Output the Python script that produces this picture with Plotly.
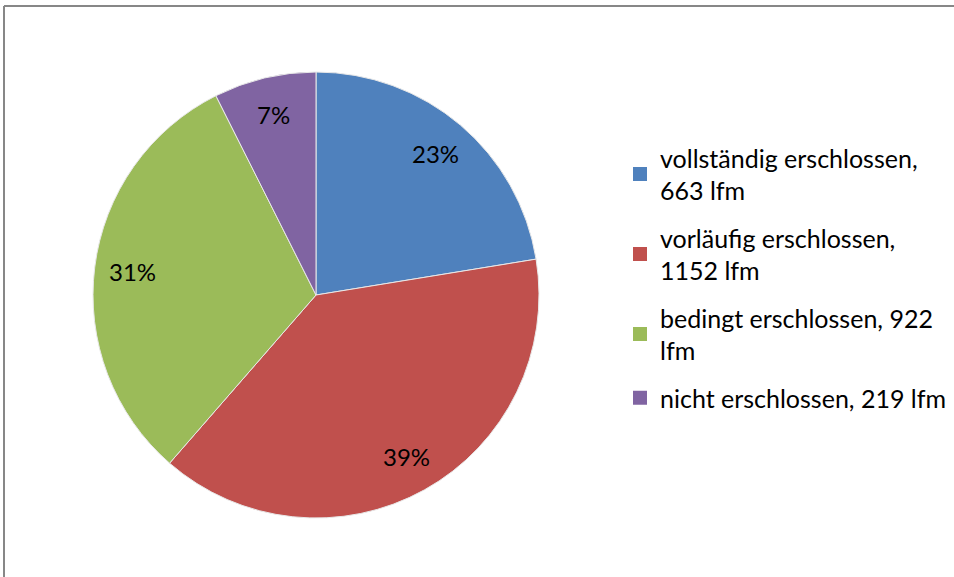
import math
import plotly.graph_objects as go

# Erschließungsstand der Bestände (laufende Meter)
categories = [
    "vollständig erschlossen,<br>663 lfm",
    "vorläufig erschlossen,<br>1152 lfm",
    "bedingt erschlossen, 922<br>lfm",
    "nicht erschlossen, 219 lfm",
]
values = [663, 1152, 922, 219]
percent_labels = ["23%", "39%", "31%", "7%"]
colors = ["#4F81BD", "#C0504D", "#9BBB59", "#8064A2"]

W, H = 954, 577
cx, cy, r = 316, 295, 223          # pie centre and radius in pixels
label_r = 0.83 * r                 # radius where the percent labels sit
font_family = "Lato"

fig = go.Figure()

fig.add_trace(
    go.Pie(
        labels=categories,
        values=values,
        textinfo="none",
        sort=False,
        direction="clockwise",
        rotation=0,
        showlegend=False,
        marker=dict(colors=colors, line=dict(color="#E8E8E8", width=1)),
        domain=dict(
            x=[(cx - r) / W, (cx + r) / W],
            y=[(H - cy - r) / H, (H - cy + r) / H],
        ),
        hoverinfo="label+value",
    )
)

# legend entries: one square-marker entry per category, each in its own group
for i, (name, col) in enumerate(zip(categories, colors)):
    fig.add_trace(
        go.Scatter(
            x=[None],
            y=[None],
            mode="markers",
            name=name,
            legendgroup=f"g{i}",
            marker=dict(symbol="square", size=14, color=col),
            showlegend=True,
        )
    )

# percent labels placed at the middle angle of each slice (clockwise from 12 o'clock)
total = sum(values)
annotations = []
start = 0.0
for v, txt in zip(values, percent_labels):
    frac = v / total
    mid = 2 * math.pi * (start + frac / 2)
    px = cx + label_r * math.sin(mid)
    py = cy - label_r * math.cos(mid)
    annotations.append(
        dict(
            x=px / W,
            y=1 - py / H,
            xref="paper",
            yref="paper",
            text=txt,
            showarrow=False,
            xanchor="center",
            yanchor="middle",
            font=dict(family=font_family, size=24, color="black"),
        )
    )
    start += frac

# chart frame: only the top and left edges fall inside the page
frame = dict(color="#878787", width=2)
shapes = [
    dict(type="line", xref="paper", yref="paper",
         x0=4 / W, x1=1.0, y0=(H - 6) / H, y1=(H - 6) / H, line=frame),
    dict(type="line", xref="paper", yref="paper",
         x0=4 / W, x1=4 / W, y0=0.0, y1=(H - 6) / H, line=frame),
]

fig.update_layout(
    width=W,
    height=H,
    margin=dict(l=0, r=0, t=0, b=0),
    paper_bgcolor="white",
    plot_bgcolor="white",
    font=dict(family=font_family, size=25, color="black"),
    xaxis=dict(visible=False, showline=False, zeroline=False, showgrid=False),
    yaxis=dict(visible=False, showline=False, zeroline=False, showgrid=False),
    annotations=annotations,
    legend=dict(
        x=620 / W,
        y=(H - 135) / H,
        xanchor="left",
        yanchor="top",
        font=dict(family=font_family, size=25, color="black"),
        tracegroupgap=12,
        itemsizing="trace",
        bgcolor="rgba(0,0,0,0)",
        borderwidth=0,
    ),
    shapes=shapes,
)

fig.write_html("out.html", config={"displayModeBar": False})
